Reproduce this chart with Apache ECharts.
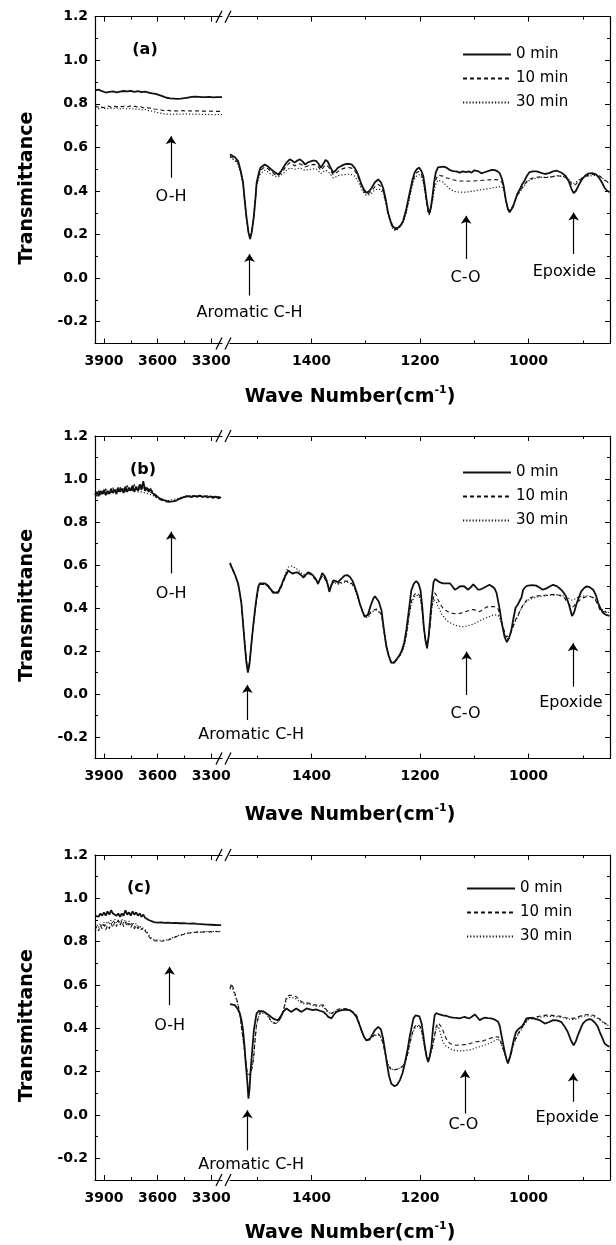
<!DOCTYPE html>
<html>
<head>
<meta charset="utf-8">
<title>FTIR spectra</title>
<script src="https://cdn.jsdelivr.net/npm/echarts@6.0.0/dist/echarts.min.js"></script>
<style>
html, body { margin: 0; padding: 0; background: #fff; }
#main { width: 616px; height: 1245px; }
</style>
</head>
<body>
<div id="main"></div>
<script>
// legend / series names
var seriesNames = ['0 min', '10 min', '30 min'];
var panelNames = ['(a)', '(b)', '(c)'];

// tick values
var xTicksLeft = [3900, 3600, 3300];
var xMinorLeft = [3750, 3450];
var xTicksRight = [1400, 1200, 1000];
var xMinorRight = [1500, 1300, 1100, 900];
var yTicks = [-0.2, 0, 0.2, 0.4, 0.6, 0.8, 1.0, 1.2];
var yMinor = [-0.1, 0.1, 0.3, 0.5, 0.7, 0.9, 1.1];

// ---- panel (a) ----
var a0Left = [[3950,0.862],[3930,0.865],[3910,0.858],[3890,0.852],[3870,0.855],[3850,0.857],[3830,0.853],[3810,0.856],[3790,0.859],[3770,0.857],[3750,0.86],[3730,0.855],[3710,0.858],[3690,0.854],[3670,0.856],[3650,0.852],[3630,0.848],[3610,0.846],[3590,0.84],[3570,0.834],[3550,0.828],[3530,0.825],[3510,0.824],[3490,0.823],[3470,0.824],[3450,0.826],[3430,0.829],[3410,0.832],[3390,0.833],[3370,0.832],[3350,0.831],[3330,0.831],[3310,0.832],[3290,0.83],[3270,0.831],[3240,0.831]];
var a10Left = [[3950,0.79],[3935,0.785],[3920,0.79],[3905,0.782],[3890,0.787],[3875,0.79],[3860,0.784],[3845,0.79],[3830,0.786],[3815,0.792],[3800,0.787],[3785,0.79],[3770,0.785],[3755,0.79],[3740,0.786],[3725,0.789],[3710,0.783],[3695,0.787],[3680,0.782],[3665,0.785],[3650,0.78],[3635,0.782],[3620,0.776],[3600,0.775],[3580,0.772],[3560,0.768],[3540,0.77],[3520,0.766],[3500,0.768],[3480,0.767],[3460,0.769],[3440,0.766],[3420,0.768],[3400,0.767],[3380,0.768],[3360,0.766],[3340,0.767],[3320,0.765],[3300,0.767],[3280,0.765],[3260,0.766],[3240,0.765]];
var a30Left = [[3950,0.782],[3930,0.778],[3910,0.783],[3890,0.777],[3870,0.781],[3850,0.778],[3830,0.782],[3810,0.777],[3790,0.78],[3770,0.776],[3750,0.779],[3730,0.775],[3710,0.777],[3690,0.772],[3670,0.774],[3650,0.769],[3630,0.766],[3610,0.762],[3590,0.758],[3570,0.755],[3550,0.753],[3530,0.752],[3500,0.753],[3470,0.752],[3440,0.754],[3410,0.752],[3380,0.753],[3350,0.751],[3320,0.752],[3290,0.75],[3260,0.751],[3240,0.75]];
var a0Right = [[1550,0.568],[1541,0.555],[1535,0.537],[1530,0.49],[1526,0.438],[1523,0.36],[1520,0.286],[1516,0.21],[1513,0.179],[1510,0.21],[1506,0.286],[1503,0.37],[1501,0.438],[1497,0.48],[1494,0.507],[1486,0.522],[1480,0.512],[1474,0.499],[1467,0.485],[1461,0.476],[1456,0.49],[1452,0.507],[1446,0.53],[1440,0.545],[1436,0.54],[1431,0.53],[1426,0.54],[1421,0.545],[1416,0.535],[1412,0.522],[1406,0.532],[1400,0.537],[1395,0.54],[1391,0.537],[1387,0.525],[1383,0.507],[1378,0.525],[1374,0.542],[1370,0.535],[1366,0.514],[1360,0.484],[1355,0.495],[1351,0.507],[1345,0.515],[1339,0.522],[1332,0.525],[1326,0.522],[1320,0.505],[1317,0.491],[1312,0.46],[1308,0.431],[1303,0.405],[1299,0.392],[1294,0.398],[1289,0.415],[1283,0.44],[1277,0.453],[1272,0.44],[1268,0.415],[1263,0.36],[1259,0.301],[1254,0.26],[1250,0.237],[1245,0.228],[1240,0.232],[1235,0.245],[1231,0.263],[1225,0.32],[1219,0.392],[1214,0.45],[1210,0.484],[1206,0.5],[1202,0.507],[1198,0.495],[1194,0.469],[1191,0.42],[1188,0.362],[1185,0.315],[1183,0.298],[1180,0.325],[1177,0.377],[1174,0.44],[1171,0.484],[1167,0.508],[1164,0.517],[1157,0.512],[1151,0.507],[1145,0.496],[1139,0.491],[1133,0.49],[1127,0.484],[1121,0.49],[1115,0.487],[1110,0.49],[1105,0.484],[1100,0.495],[1097,0.502],[1092,0.49],[1087,0.481],[1081,0.486],[1075,0.491],[1068,0.497],[1062,0.496],[1057,0.49],[1053,0.481],[1049,0.455],[1046,0.423],[1042,0.36],[1038,0.316],[1035,0.302],[1033,0.301],[1029,0.325],[1026,0.347],[1021,0.385],[1016,0.408],[1012,0.43],[1008,0.445],[1003,0.47],[998,0.487],[992,0.49],[985,0.49],[978,0.484],[970,0.478],[962,0.482],[955,0.49],[948,0.493],[940,0.485],[932,0.47],[926,0.445],[921,0.41],[917,0.39],[913,0.4],[908,0.425],[902,0.452],[896,0.47],[890,0.48],[883,0.482],[876,0.476],[870,0.46],[865,0.44],[860,0.415],[855,0.4],[850,0.395]];
var a10Right = [[1550,0.56],[1541,0.545],[1535,0.53],[1530,0.485],[1526,0.44],[1523,0.36],[1520,0.29],[1516,0.215],[1513,0.19],[1510,0.215],[1506,0.29],[1503,0.37],[1501,0.43],[1497,0.47],[1494,0.495],[1486,0.51],[1480,0.502],[1474,0.49],[1467,0.475],[1461,0.47],[1456,0.482],[1452,0.495],[1446,0.515],[1440,0.53],[1436,0.525],[1431,0.515],[1426,0.522],[1421,0.525],[1416,0.518],[1412,0.51],[1406,0.516],[1400,0.52],[1395,0.522],[1391,0.52],[1387,0.51],[1383,0.495],[1378,0.508],[1374,0.52],[1370,0.515],[1366,0.5],[1360,0.475],[1355,0.482],[1351,0.49],[1345,0.5],[1339,0.505],[1332,0.508],[1326,0.505],[1320,0.492],[1317,0.48],[1312,0.452],[1308,0.425],[1303,0.398],[1299,0.385],[1294,0.39],[1289,0.4],[1283,0.42],[1277,0.43],[1272,0.422],[1268,0.4],[1263,0.35],[1259,0.3],[1254,0.255],[1250,0.23],[1245,0.222],[1240,0.23],[1235,0.245],[1231,0.26],[1225,0.31],[1219,0.38],[1214,0.44],[1210,0.47],[1206,0.485],[1202,0.49],[1198,0.48],[1194,0.45],[1191,0.4],[1188,0.35],[1185,0.305],[1183,0.29],[1180,0.32],[1177,0.36],[1174,0.42],[1171,0.45],[1167,0.472],[1164,0.476],[1157,0.468],[1151,0.46],[1145,0.457],[1139,0.452],[1133,0.448],[1127,0.446],[1121,0.446],[1115,0.445],[1108,0.446],[1100,0.446],[1096,0.447],[1090,0.448],[1084,0.449],[1078,0.45],[1072,0.451],[1066,0.452],[1060,0.452],[1053,0.45],[1049,0.44],[1046,0.42],[1042,0.36],[1038,0.318],[1035,0.308],[1032,0.31],[1029,0.33],[1026,0.35],[1021,0.38],[1016,0.4],[1012,0.415],[1008,0.43],[1003,0.445],[998,0.455],[992,0.46],[985,0.463],[978,0.465],[970,0.462],[962,0.462],[955,0.466],[948,0.47],[940,0.468],[932,0.462],[926,0.45],[921,0.432],[917,0.425],[913,0.43],[908,0.445],[902,0.458],[896,0.466],[890,0.472],[883,0.476],[876,0.476],[870,0.47],[865,0.46],[860,0.45],[855,0.443],[850,0.44]];
var a30Right = [[1550,0.555],[1541,0.54],[1535,0.52],[1530,0.475],[1526,0.43],[1523,0.355],[1520,0.28],[1516,0.21],[1513,0.19],[1510,0.21],[1506,0.28],[1503,0.36],[1501,0.42],[1497,0.46],[1494,0.48],[1486,0.495],[1480,0.488],[1474,0.475],[1467,0.468],[1461,0.465],[1456,0.472],[1452,0.48],[1446,0.495],[1440,0.505],[1436,0.503],[1431,0.5],[1426,0.503],[1421,0.505],[1416,0.5],[1412,0.495],[1406,0.498],[1400,0.5],[1395,0.502],[1391,0.5],[1387,0.492],[1383,0.48],[1378,0.49],[1374,0.495],[1370,0.49],[1366,0.48],[1360,0.46],[1355,0.465],[1351,0.47],[1345,0.473],[1339,0.475],[1332,0.477],[1326,0.475],[1320,0.468],[1317,0.46],[1312,0.435],[1308,0.41],[1303,0.39],[1299,0.38],[1294,0.383],[1289,0.39],[1283,0.405],[1277,0.41],[1272,0.405],[1268,0.39],[1263,0.345],[1259,0.3],[1254,0.25],[1250,0.225],[1245,0.218],[1240,0.225],[1235,0.24],[1231,0.255],[1225,0.3],[1219,0.37],[1214,0.425],[1210,0.455],[1206,0.47],[1202,0.475],[1198,0.465],[1194,0.44],[1191,0.395],[1188,0.35],[1185,0.305],[1183,0.29],[1180,0.315],[1177,0.35],[1174,0.4],[1171,0.43],[1167,0.45],[1164,0.457],[1157,0.44],[1151,0.423],[1145,0.41],[1139,0.4],[1133,0.396],[1127,0.395],[1121,0.394],[1115,0.395],[1108,0.397],[1100,0.4],[1090,0.405],[1082,0.408],[1075,0.41],[1066,0.415],[1058,0.418],[1050,0.42],[1046,0.41],[1042,0.36],[1038,0.32],[1035,0.31],[1032,0.312],[1029,0.33],[1026,0.35],[1021,0.378],[1016,0.395],[1012,0.41],[1008,0.425],[1003,0.44],[998,0.45],[992,0.455],[985,0.46],[978,0.462],[970,0.463],[962,0.465],[955,0.467],[948,0.47],[940,0.468],[932,0.465],[926,0.455],[921,0.44],[917,0.435],[913,0.44],[908,0.45],[902,0.46],[896,0.465],[890,0.468],[883,0.47],[876,0.472],[870,0.47],[865,0.463],[860,0.45],[855,0.44],[850,0.435]];

// ---- panel (b) ----
var b0Left = [[3950,0.925],[3940,0.94],[3930,0.92],[3920,0.945],[3910,0.93],[3900,0.95],[3890,0.925],[3880,0.945],[3870,0.93],[3860,0.955],[3850,0.935],[3840,0.95],[3830,0.93],[3820,0.96],[3810,0.94],[3800,0.955],[3790,0.935],[3780,0.965],[3770,0.94],[3760,0.96],[3750,0.945],[3740,0.97],[3730,0.94],[3720,0.965],[3710,0.945],[3700,0.975],[3690,0.95],[3680,0.99],[3670,0.945],[3660,0.96],[3650,0.94],[3640,0.955],[3630,0.935],[3620,0.94],[3610,0.925],[3600,0.92],[3590,0.91],[3575,0.905],[3560,0.9],[3545,0.897],[3530,0.895],[3515,0.896],[3500,0.898],[3485,0.905],[3470,0.91],[3455,0.915],[3440,0.918],[3425,0.92],[3410,0.915],[3395,0.922],[3380,0.917],[3365,0.923],[3350,0.916],[3335,0.921],[3320,0.914],[3305,0.92],[3290,0.912],[3275,0.918],[3260,0.91],[3245,0.915]];
var b10Left = [[3950,0.935],[3940,0.92],[3930,0.945],[3920,0.925],[3910,0.95],[3900,0.93],[3890,0.955],[3880,0.93],[3870,0.95],[3860,0.935],[3850,0.96],[3840,0.935],[3830,0.955],[3820,0.94],[3810,0.965],[3800,0.935],[3790,0.96],[3780,0.94],[3770,0.97],[3760,0.945],[3750,0.965],[3740,0.945],[3730,0.975],[3720,0.95],[3710,0.97],[3700,0.945],[3690,0.98],[3680,0.955],[3670,0.965],[3660,0.94],[3650,0.955],[3640,0.935],[3630,0.945],[3620,0.925],[3610,0.92],[3600,0.91],[3590,0.905],[3575,0.9],[3560,0.895],[3545,0.893],[3530,0.892],[3515,0.895],[3500,0.9],[3485,0.906],[3470,0.912],[3455,0.918],[3440,0.922],[3425,0.917],[3410,0.924],[3395,0.918],[3380,0.925],[3365,0.919],[3350,0.924],[3335,0.917],[3320,0.922],[3305,0.915],[3290,0.92],[3275,0.913],[3260,0.918],[3245,0.912]];
var b30Left = [[3950,0.93],[3940,0.935],[3930,0.93],[3920,0.94],[3910,0.935],[3900,0.94],[3890,0.935],[3880,0.94],[3870,0.94],[3860,0.945],[3850,0.94],[3840,0.945],[3830,0.94],[3820,0.945],[3810,0.945],[3800,0.95],[3790,0.945],[3780,0.95],[3770,0.945],[3760,0.95],[3750,0.945],[3740,0.95],[3730,0.945],[3720,0.95],[3710,0.94],[3700,0.945],[3690,0.94],[3680,0.945],[3670,0.935],[3660,0.935],[3650,0.93],[3640,0.93],[3630,0.925],[3620,0.92],[3610,0.915],[3600,0.91],[3585,0.905],[3570,0.902],[3555,0.9],[3540,0.9],[3525,0.902],[3510,0.905],[3495,0.908],[3480,0.912],[3465,0.915],[3450,0.918],[3435,0.92],[3420,0.921],[3405,0.922],[3390,0.921],[3375,0.922],[3360,0.921],[3345,0.92],[3330,0.92],[3315,0.919],[3300,0.918],[3285,0.918],[3270,0.917],[3255,0.917],[3245,0.916]];
var b0Right = [[1550,0.61],[1547,0.59],[1544,0.574],[1540,0.55],[1535,0.513],[1532,0.47],[1529,0.421],[1526,0.33],[1523,0.237],[1520,0.15],[1517,0.1],[1514,0.14],[1511,0.222],[1508,0.3],[1504,0.39],[1501,0.45],[1498,0.498],[1495,0.515],[1492,0.52],[1486,0.515],[1480,0.505],[1476,0.49],[1471,0.475],[1466,0.47],[1461,0.475],[1456,0.5],[1452,0.528],[1447,0.555],[1443,0.574],[1438,0.565],[1434,0.559],[1430,0.565],[1425,0.566],[1420,0.555],[1415,0.544],[1410,0.555],[1406,0.566],[1401,0.56],[1397,0.551],[1392,0.535],[1388,0.513],[1384,0.535],[1380,0.562],[1376,0.55],[1372,0.528],[1369,0.5],[1367,0.475],[1364,0.5],[1360,0.528],[1355,0.525],[1351,0.52],[1345,0.535],[1339,0.551],[1334,0.553],[1329,0.544],[1324,0.525],[1320,0.498],[1315,0.46],[1311,0.421],[1306,0.385],[1302,0.36],[1299,0.358],[1296,0.368],[1291,0.41],[1286,0.444],[1283,0.455],[1280,0.452],[1276,0.43],[1271,0.39],[1267,0.31],[1262,0.222],[1258,0.18],[1253,0.146],[1248,0.145],[1243,0.161],[1238,0.18],[1234,0.199],[1229,0.24],[1225,0.299],[1220,0.4],[1216,0.482],[1211,0.515],[1207,0.525],[1203,0.515],[1199,0.482],[1196,0.41],[1193,0.314],[1190,0.25],[1187,0.215],[1184,0.27],[1181,0.36],[1178,0.45],[1175,0.52],[1172,0.535],[1169,0.53],[1164,0.52],[1158,0.515],[1152,0.515],[1145,0.515],[1140,0.5],[1136,0.485],[1131,0.492],[1127,0.5],[1122,0.502],[1118,0.5],[1112,0.485],[1107,0.495],[1102,0.51],[1098,0.5],[1093,0.485],[1088,0.487],[1084,0.492],[1078,0.5],[1072,0.508],[1067,0.5],[1063,0.492],[1059,0.47],[1056,0.431],[1053,0.39],[1050,0.34],[1047,0.3],[1044,0.264],[1040,0.241],[1036,0.26],[1032,0.294],[1028,0.35],[1024,0.401],[1020,0.415],[1017,0.424],[1013,0.45],[1010,0.485],[1005,0.5],[1001,0.504],[993,0.506],[986,0.504],[980,0.495],[974,0.485],[968,0.49],[961,0.5],[955,0.508],[948,0.502],[940,0.485],[935,0.47],[931,0.454],[926,0.42],[920,0.363],[916,0.38],[912,0.416],[908,0.445],[903,0.477],[898,0.492],[894,0.5],[888,0.498],[881,0.485],[876,0.46],[872,0.424],[867,0.395],[863,0.378],[857,0.368],[851,0.363]];
var b10Right = [[1550,0.605],[1547,0.585],[1544,0.57],[1540,0.545],[1535,0.51],[1532,0.465],[1529,0.42],[1526,0.33],[1523,0.24],[1520,0.16],[1517,0.11],[1514,0.15],[1511,0.22],[1508,0.3],[1504,0.38],[1501,0.44],[1498,0.49],[1495,0.51],[1492,0.515],[1486,0.51],[1480,0.5],[1476,0.485],[1471,0.47],[1466,0.465],[1461,0.47],[1456,0.495],[1452,0.52],[1447,0.55],[1443,0.57],[1438,0.565],[1434,0.56],[1430,0.565],[1425,0.565],[1420,0.552],[1415,0.54],[1410,0.55],[1406,0.56],[1401,0.555],[1397,0.545],[1392,0.53],[1388,0.51],[1384,0.53],[1380,0.55],[1376,0.54],[1372,0.52],[1369,0.5],[1367,0.48],[1364,0.5],[1360,0.52],[1355,0.517],[1351,0.515],[1345,0.52],[1339,0.525],[1334,0.525],[1329,0.52],[1324,0.51],[1320,0.49],[1315,0.455],[1311,0.42],[1306,0.385],[1302,0.36],[1299,0.355],[1296,0.36],[1291,0.38],[1286,0.39],[1283,0.395],[1280,0.395],[1276,0.385],[1271,0.37],[1267,0.3],[1262,0.22],[1258,0.18],[1253,0.145],[1248,0.145],[1243,0.16],[1238,0.175],[1234,0.19],[1229,0.23],[1225,0.28],[1220,0.37],[1216,0.43],[1211,0.46],[1207,0.47],[1203,0.465],[1199,0.45],[1196,0.39],[1193,0.31],[1190,0.25],[1187,0.21],[1184,0.26],[1181,0.33],[1178,0.41],[1175,0.45],[1173,0.47],[1170,0.46],[1167,0.44],[1162,0.415],[1158,0.4],[1152,0.388],[1145,0.378],[1139,0.375],[1133,0.373],[1127,0.375],[1121,0.378],[1114,0.385],[1108,0.39],[1102,0.393],[1096,0.388],[1090,0.383],[1084,0.393],[1078,0.404],[1072,0.406],[1066,0.407],[1060,0.405],[1056,0.395],[1053,0.37],[1049,0.33],[1044,0.287],[1041,0.265],[1038,0.256],[1034,0.275],[1029,0.31],[1025,0.34],[1020,0.363],[1015,0.39],[1010,0.416],[1004,0.435],[998,0.447],[990,0.453],[982,0.457],[974,0.459],[966,0.46],[958,0.462],[949,0.462],[942,0.458],[934,0.447],[928,0.425],[921,0.401],[916,0.41],[912,0.424],[906,0.436],[900,0.447],[894,0.452],[888,0.454],[883,0.45],[878,0.44],[873,0.42],[869,0.393],[863,0.383],[857,0.38],[851,0.378]];
var b30Right = [[1550,0.605],[1547,0.59],[1544,0.575],[1540,0.55],[1535,0.515],[1532,0.47],[1529,0.42],[1526,0.33],[1523,0.24],[1520,0.16],[1517,0.11],[1514,0.15],[1511,0.22],[1508,0.3],[1504,0.38],[1501,0.44],[1498,0.49],[1495,0.51],[1492,0.515],[1486,0.51],[1480,0.5],[1476,0.49],[1471,0.475],[1466,0.472],[1461,0.48],[1456,0.505],[1452,0.53],[1447,0.565],[1443,0.59],[1438,0.595],[1434,0.595],[1430,0.585],[1425,0.58],[1420,0.565],[1415,0.555],[1410,0.56],[1406,0.565],[1401,0.56],[1397,0.55],[1392,0.535],[1388,0.52],[1384,0.535],[1380,0.55],[1376,0.54],[1372,0.52],[1369,0.505],[1367,0.49],[1364,0.505],[1360,0.52],[1355,0.515],[1351,0.51],[1345,0.515],[1339,0.52],[1334,0.52],[1329,0.515],[1324,0.505],[1320,0.49],[1315,0.455],[1311,0.42],[1306,0.385],[1302,0.36],[1299,0.352],[1296,0.355],[1291,0.375],[1286,0.385],[1283,0.39],[1280,0.39],[1276,0.382],[1271,0.37],[1267,0.31],[1262,0.23],[1258,0.185],[1253,0.15],[1248,0.15],[1243,0.165],[1238,0.178],[1234,0.19],[1229,0.225],[1225,0.27],[1220,0.36],[1216,0.42],[1211,0.45],[1207,0.46],[1203,0.458],[1199,0.44],[1196,0.385],[1193,0.31],[1190,0.255],[1187,0.22],[1184,0.26],[1181,0.33],[1178,0.4],[1175,0.44],[1173,0.447],[1170,0.43],[1167,0.41],[1164,0.393],[1160,0.37],[1155,0.355],[1150,0.34],[1145,0.332],[1139,0.325],[1133,0.318],[1127,0.315],[1121,0.313],[1114,0.316],[1108,0.32],[1102,0.325],[1096,0.332],[1090,0.34],[1084,0.348],[1078,0.355],[1072,0.36],[1066,0.367],[1060,0.368],[1056,0.366],[1052,0.345],[1047,0.302],[1043,0.27],[1039,0.255],[1035,0.27],[1030,0.305],[1025,0.335],[1020,0.36],[1015,0.39],[1010,0.412],[1004,0.43],[998,0.44],[990,0.447],[982,0.452],[974,0.455],[966,0.458],[958,0.46],[949,0.462],[942,0.46],[934,0.455],[928,0.447],[921,0.437],[916,0.44],[912,0.447],[906,0.452],[900,0.455],[894,0.457],[888,0.455],[883,0.452],[878,0.445],[873,0.43],[869,0.405],[863,0.39],[857,0.382],[851,0.378]];

// ---- panel (c) ----
var c0Left = [[3950,0.92],[3940,0.925],[3930,0.915],[3920,0.93],[3910,0.92],[3900,0.935],[3890,0.92],[3880,0.94],[3870,0.925],[3860,0.945],[3850,0.93],[3840,0.935],[3830,0.92],[3820,0.93],[3810,0.915],[3800,0.93],[3790,0.92],[3780,0.945],[3770,0.925],[3760,0.935],[3750,0.92],[3740,0.94],[3730,0.925],[3720,0.935],[3710,0.92],[3700,0.93],[3690,0.915],[3680,0.925],[3670,0.91],[3660,0.905],[3650,0.9],[3640,0.895],[3620,0.89],[3600,0.888],[3580,0.889],[3560,0.887],[3540,0.888],[3520,0.886],[3500,0.887],[3480,0.885],[3460,0.886],[3440,0.884],[3420,0.883],[3400,0.884],[3380,0.882],[3360,0.881],[3340,0.88],[3320,0.879],[3300,0.878],[3280,0.877],[3260,0.876],[3245,0.876]];
var c10Left = [[3950,0.855],[3940,0.87],[3930,0.85],[3920,0.875],[3910,0.86],[3900,0.88],[3890,0.855],[3880,0.875],[3870,0.86],[3860,0.885],[3850,0.865],[3840,0.89],[3830,0.87],[3820,0.9],[3810,0.875],[3800,0.895],[3790,0.87],[3780,0.89],[3770,0.87],[3760,0.885],[3750,0.865],[3740,0.88],[3730,0.86],[3720,0.875],[3710,0.86],[3700,0.87],[3690,0.855],[3680,0.865],[3670,0.85],[3660,0.84],[3650,0.825],[3640,0.815],[3630,0.81],[3620,0.805],[3610,0.808],[3600,0.803],[3590,0.807],[3580,0.802],[3570,0.806],[3560,0.804],[3550,0.81],[3540,0.808],[3520,0.815],[3500,0.822],[3480,0.828],[3460,0.832],[3440,0.838],[3420,0.84],[3400,0.842],[3380,0.844],[3360,0.843],[3340,0.845],[3320,0.846],[3300,0.845],[3280,0.847],[3260,0.846],[3245,0.846]];
var c30Left = [[3950,0.87],[3940,0.88],[3930,0.865],[3920,0.885],[3910,0.87],[3900,0.89],[3890,0.875],[3880,0.895],[3870,0.88],[3860,0.9],[3850,0.885],[3840,0.905],[3830,0.885],[3820,0.9],[3810,0.88],[3800,0.905],[3790,0.885],[3780,0.9],[3770,0.88],[3760,0.895],[3750,0.875],[3740,0.89],[3730,0.87],[3720,0.885],[3710,0.865],[3700,0.875],[3690,0.86],[3680,0.865],[3670,0.855],[3660,0.845],[3650,0.832],[3640,0.82],[3630,0.815],[3620,0.81],[3610,0.812],[3600,0.808],[3590,0.81],[3580,0.806],[3570,0.809],[3560,0.807],[3550,0.812],[3540,0.81],[3520,0.817],[3500,0.824],[3480,0.83],[3460,0.834],[3440,0.839],[3420,0.841],[3400,0.843],[3380,0.845],[3360,0.844],[3340,0.846],[3320,0.847],[3300,0.846],[3280,0.848],[3260,0.847],[3245,0.847]];
var c0Right = [[1550,0.512],[1547,0.51],[1541,0.507],[1536,0.49],[1532,0.469],[1529,0.44],[1526,0.392],[1523,0.31],[1521,0.238],[1518,0.15],[1516,0.076],[1514,0.12],[1512,0.207],[1509,0.3],[1506,0.392],[1503,0.44],[1501,0.469],[1497,0.48],[1494,0.484],[1488,0.478],[1483,0.469],[1477,0.458],[1471,0.446],[1466,0.44],[1461,0.438],[1456,0.458],[1452,0.476],[1446,0.492],[1441,0.482],[1437,0.476],[1432,0.485],[1428,0.492],[1423,0.483],[1418,0.476],[1413,0.485],[1409,0.492],[1403,0.488],[1397,0.484],[1392,0.487],[1388,0.484],[1383,0.48],[1378,0.476],[1373,0.465],[1369,0.453],[1366,0.445],[1363,0.446],[1358,0.465],[1354,0.476],[1348,0.482],[1342,0.484],[1335,0.486],[1329,0.484],[1323,0.472],[1317,0.453],[1312,0.42],[1308,0.392],[1303,0.36],[1299,0.345],[1293,0.348],[1288,0.37],[1283,0.392],[1277,0.407],[1272,0.395],[1268,0.353],[1264,0.29],[1261,0.238],[1257,0.18],[1253,0.145],[1247,0.133],[1242,0.14],[1237,0.161],[1232,0.195],[1228,0.238],[1223,0.3],[1219,0.361],[1215,0.41],[1212,0.446],[1208,0.46],[1205,0.466],[1201,0.455],[1197,0.422],[1194,0.37],[1191,0.315],[1188,0.27],[1185,0.245],[1182,0.27],[1179,0.315],[1176,0.4],[1173,0.46],[1170,0.47],[1164,0.464],[1158,0.46],[1152,0.458],[1145,0.452],[1139,0.449],[1133,0.448],[1127,0.446],[1122,0.45],[1118,0.453],[1113,0.448],[1109,0.446],[1104,0.455],[1099,0.464],[1094,0.45],[1090,0.438],[1085,0.445],[1081,0.449],[1075,0.447],[1069,0.446],[1062,0.44],[1056,0.43],[1053,0.41],[1050,0.369],[1047,0.33],[1044,0.292],[1041,0.26],[1038,0.238],[1034,0.27],[1030,0.315],[1027,0.35],[1023,0.384],[1018,0.398],[1013,0.407],[1008,0.425],[1004,0.446],[998,0.448],[992,0.446],[986,0.442],[980,0.438],[975,0.43],[970,0.422],[963,0.428],[955,0.438],[948,0.437],[940,0.43],[934,0.41],[928,0.384],[922,0.345],[917,0.322],[913,0.34],[909,0.369],[904,0.4],[900,0.422],[895,0.435],[889,0.442],[884,0.44],[878,0.427],[873,0.41],[869,0.384],[864,0.355],[860,0.33],[855,0.32],[851,0.315]];
var c10Right = [[1550,0.585],[1547,0.607],[1544,0.585],[1541,0.561],[1536,0.52],[1532,0.469],[1528,0.39],[1524,0.315],[1521,0.25],[1518,0.191],[1515,0.183],[1513,0.184],[1510,0.21],[1507,0.253],[1504,0.34],[1501,0.422],[1497,0.46],[1494,0.476],[1488,0.475],[1483,0.469],[1478,0.45],[1474,0.43],[1469,0.424],[1464,0.422],[1460,0.435],[1455,0.453],[1450,0.5],[1446,0.546],[1441,0.552],[1437,0.553],[1432,0.55],[1428,0.546],[1423,0.535],[1418,0.522],[1410,0.518],[1403,0.515],[1397,0.51],[1391,0.507],[1384,0.508],[1378,0.507],[1375,0.495],[1372,0.484],[1367,0.474],[1363,0.469],[1358,0.478],[1354,0.484],[1348,0.49],[1342,0.492],[1335,0.49],[1329,0.484],[1323,0.475],[1317,0.461],[1312,0.425],[1308,0.392],[1303,0.36],[1299,0.345],[1294,0.352],[1289,0.361],[1283,0.37],[1277,0.376],[1272,0.36],[1268,0.33],[1263,0.27],[1259,0.23],[1254,0.212],[1250,0.207],[1244,0.21],[1237,0.214],[1232,0.225],[1228,0.238],[1223,0.28],[1219,0.33],[1214,0.38],[1210,0.407],[1206,0.418],[1203,0.422],[1200,0.41],[1197,0.392],[1194,0.35],[1191,0.307],[1188,0.275],[1185,0.253],[1181,0.28],[1177,0.315],[1173,0.37],[1170,0.41],[1166,0.425],[1163,0.43],[1159,0.4],[1155,0.369],[1150,0.345],[1145,0.33],[1139,0.325],[1133,0.322],[1127,0.323],[1121,0.324],[1115,0.325],[1108,0.33],[1102,0.335],[1096,0.338],[1090,0.34],[1084,0.341],[1078,0.348],[1072,0.353],[1066,0.357],[1060,0.36],[1056,0.361],[1053,0.35],[1050,0.33],[1046,0.3],[1042,0.268],[1036,0.253],[1032,0.28],[1029,0.322],[1025,0.345],[1021,0.369],[1017,0.385],[1013,0.399],[1007,0.425],[1001,0.446],[994,0.45],[986,0.453],[977,0.457],[967,0.461],[958,0.46],[949,0.458],[940,0.455],[931,0.449],[924,0.447],[917,0.446],[910,0.452],[900,0.461],[894,0.463],[888,0.464],[881,0.46],[875,0.453],[869,0.443],[863,0.43],[857,0.42],[851,0.415]];
var c30Right = [[1550,0.58],[1547,0.595],[1544,0.575],[1541,0.555],[1536,0.515],[1532,0.465],[1528,0.385],[1524,0.31],[1521,0.245],[1518,0.19],[1515,0.185],[1513,0.188],[1510,0.215],[1507,0.255],[1504,0.34],[1501,0.415],[1497,0.455],[1494,0.47],[1488,0.47],[1483,0.465],[1478,0.448],[1474,0.432],[1469,0.426],[1464,0.425],[1460,0.436],[1455,0.452],[1450,0.495],[1446,0.535],[1441,0.542],[1437,0.543],[1432,0.54],[1428,0.535],[1423,0.526],[1418,0.515],[1410,0.512],[1403,0.51],[1397,0.505],[1391,0.502],[1384,0.503],[1378,0.5],[1375,0.49],[1372,0.48],[1367,0.472],[1363,0.468],[1358,0.475],[1354,0.48],[1348,0.486],[1342,0.488],[1335,0.487],[1329,0.48],[1323,0.472],[1317,0.457],[1312,0.423],[1308,0.39],[1303,0.36],[1299,0.345],[1294,0.35],[1289,0.358],[1283,0.366],[1277,0.372],[1272,0.358],[1268,0.33],[1263,0.272],[1259,0.235],[1254,0.215],[1250,0.21],[1244,0.212],[1237,0.216],[1232,0.226],[1228,0.24],[1223,0.278],[1219,0.325],[1214,0.372],[1210,0.4],[1206,0.41],[1203,0.413],[1200,0.402],[1197,0.385],[1194,0.345],[1191,0.305],[1188,0.275],[1185,0.255],[1181,0.28],[1177,0.312],[1173,0.36],[1170,0.399],[1166,0.41],[1163,0.405],[1158,0.338],[1152,0.318],[1145,0.307],[1139,0.3],[1133,0.297],[1127,0.295],[1121,0.297],[1115,0.299],[1109,0.3],[1102,0.305],[1096,0.31],[1090,0.315],[1084,0.32],[1078,0.325],[1072,0.33],[1066,0.338],[1060,0.345],[1056,0.353],[1053,0.345],[1050,0.325],[1046,0.298],[1042,0.27],[1037,0.256],[1033,0.275],[1029,0.315],[1025,0.34],[1021,0.362],[1017,0.38],[1013,0.395],[1007,0.42],[1001,0.44],[994,0.445],[986,0.448],[977,0.452],[967,0.455],[958,0.455],[949,0.453],[940,0.45],[931,0.445],[924,0.442],[917,0.44],[910,0.445],[900,0.455],[894,0.457],[888,0.458],[881,0.455],[875,0.448],[869,0.44],[863,0.428],[857,0.418],[851,0.41]];

var leftData = [[a0Left, a10Left, a30Left], [b0Left, b10Left, b30Left], [c0Left, c10Left, c30Left]];
var rightData = [[a0Right, a10Right, a30Right], [b0Right, b10Right, b30Right], [c0Right, c10Right, c30Right]];

// annotation arrows: [wave number, tail, head]
var ohArrows = [[3525, 0.461, 0.651], [3524, 0.561, 0.755], [3533, 0.507, 0.684]];
var ohTexts = [[3525, 0.373], [3524, 0.468], [3533, 0.41]];
var bandNames = ['Aromatic C-H', 'C-O', 'Epoxide'];
var bandArrows = [
    [[1514, -0.08, 0.111], [1115, 0.088, 0.286], [917, 0.111, 0.301]],
    [[1518, -0.121, 0.042], [1114, -0.005, 0.197], [918, 0.034, 0.236]],
    [[1518, -0.163, 0.022], [1117, 0.007, 0.207], [918, 0.061, 0.192]]
];
var bandTexts = [
    [[1514, -0.16], [1116, 0.0], [934, 0.027]],
    [[1511, -0.19], [1116, -0.09], [922, -0.039]],
    [[1511, -0.229], [1120, -0.045], [929, -0.015]]
];

// layout
var FONT = 'DejaVu Sans';
var panelTop = [16.7, 436, 855];
var panelH = [326.8, 322.5, 325];
var leftX = 95, leftW = 127, rightX = 230, rightW = 380;
var legendLeft = [462, 462, 466];
var legendTop = [46, 464, 880];
var tagPos = [[145, 50], [143, 470], [139, 888]];
var xNameY = [385, 803, 1221];

var lineTypes = ['solid', [4, 3], [1.2, 2]];
var lineWidths = [1.8, 1.1, 1.1];

var grids = [], xAxes = [], yAxes = [], series = [], legends = [], titles = [], graphics = [];

function tickStyle(len, vals) {
    return { show: true, inside: true, length: len, customValues: vals, lineStyle: { color: '#000', width: 1 } };
}

//x轴: 下方主/次刻度 + 上方主/次刻度
function addX(gi, min, max, major, minor) {
    var base = { gridIndex: gi, type: 'value', inverse: true, min: min, max: max, splitLine: { show: false } };
    var lineOn = { show: true, onZero: false, lineStyle: { color: '#000', width: 1.2 } };
    xAxes.push(Object.assign({}, base, {
        position: 'bottom', axisLine: lineOn, axisTick: tickStyle(5, major),
        axisLabel: {
            customValues: major, margin: 11, color: '#000', fontSize: 14, fontWeight: 'bold', fontFamily: FONT,
            formatter: function (v) { return String(v); }
        }
    }));
    xAxes.push(Object.assign({}, base, { position: 'bottom', axisLine: { show: false, onZero: false }, axisTick: tickStyle(3, minor), axisLabel: { show: false } }));
    xAxes.push(Object.assign({}, base, { position: 'top', axisLine: lineOn, axisTick: tickStyle(5, major), axisLabel: { show: false } }));
    xAxes.push(Object.assign({}, base, { position: 'top', axisLine: { show: false, onZero: false }, axisTick: tickStyle(3, minor), axisLabel: { show: false } }));
}

function addY(gi, side, withLabel) {
    var base = { gridIndex: gi, type: 'value', min: -0.3, max: 1.2, position: side, splitLine: { show: false } };
    var main = Object.assign({}, base, {
        axisLine: { show: true, onZero: false, lineStyle: { color: '#000', width: 1.2 } },
        axisTick: tickStyle(5, yTicks),
        axisLabel: withLabel ? {
            customValues: yTicks, margin: 7, color: '#000', fontSize: 14, fontWeight: 'bold', fontFamily: FONT,
            formatter: function (v) { return v.toFixed(1); }
        } : { show: false }
    });
    if (withLabel) {
        main.name = 'Transmittance';
        main.nameLocation = 'middle';
        main.nameGap = 58;
        main.nameTextStyle = { color: '#000', fontSize: 19, fontWeight: 'bold', fontFamily: FONT, padding: [0, 16, 0, 0] };
    }
    yAxes.push(main);
    yAxes.push(Object.assign({}, base, { axisLine: { show: false, onZero: false }, axisTick: tickStyle(3, yMinor), axisLabel: { show: false } }));
}

function breakMarks(yc) {
    var xs = [leftX + leftW - 3, rightX - 2];
    xs.forEach(function (x) {
        graphics.push({ type: 'line', shape: { x1: x - 3, y1: yc + 6, x2: x + 3, y2: yc - 6 }, style: { stroke: '#000', lineWidth: 1.2 } });
    });
}

var markText = {
    show: true, position: 'inside', formatter: '{b}', color: '#000', fontSize: 16, fontFamily: FONT
};

for (var p = 0; p < 3; p++) {
    var gL = 2 * p, gR = 2 * p + 1;
    grids.push({ left: leftX, top: panelTop[p], width: leftW, height: panelH[p] });
    grids.push({ left: rightX, top: panelTop[p], width: rightW, height: panelH[p] });
    addX(gL, 3240, 3950, xTicksLeft, xMinorLeft);
    addX(gR, 850, 1550, xTicksRight, xMinorRight);
    addY(gL, 'left', true);
    addY(gR, 'right', false);

    for (var s = 0; s < 3; s++) {
        var ls = { color: '#111', width: lineWidths[s], type: lineTypes[s] };
        var left = {
            name: seriesNames[s], type: 'line', xAxisIndex: 4 * gL, yAxisIndex: 2 * gL, color: '#111',
            data: leftData[p][s], symbol: 'none', lineStyle: ls, silent: true
        };
        var right = {
            name: seriesNames[s], type: 'line', xAxisIndex: 4 * gR, yAxisIndex: 2 * gR, color: '#111',
            data: rightData[p][s], symbol: 'none', lineStyle: ls, silent: true
        };
        if (s == 0) {
            left.markLine = {
                silent: true, symbol: ['none', 'arrow'], symbolSize: 8, animation: false,
                label: { show: false }, lineStyle: { color: '#000', width: 1.2, type: 'solid' },
                data: [[{ coord: [ohArrows[p][0], ohArrows[p][1]] }, { coord: [ohArrows[p][0], ohArrows[p][2]] }]]
            };
            left.markPoint = {
                silent: true, symbol: 'rect', symbolSize: 1, itemStyle: { color: 'rgba(0,0,0,0)' }, label: markText,
                data: [{ name: 'O-H', coord: ohTexts[p] }]
            };
            right.markLine = {
                silent: true, symbol: ['none', 'arrow'], symbolSize: 8, animation: false,
                label: { show: false }, lineStyle: { color: '#000', width: 1.2, type: 'solid' },
                data: bandArrows[p].map(function (a) {
                    return [{ coord: [a[0], a[1]] }, { coord: [a[0], a[2]] }];
                })
            };
            right.markPoint = {
                silent: true, symbol: 'rect', symbolSize: 1, itemStyle: { color: 'rgba(0,0,0,0)' }, label: markText,
                data: bandTexts[p].map(function (t, i) {
                    return { name: bandNames[i], coord: t };
                })
            };
        }
        series.push(left, right);
    }

    legends.push({
        data: seriesNames, orient: 'vertical', left: legendLeft[p], top: legendTop[p] + 1, padding: 0,
        itemWidth: 48, itemHeight: 12, itemGap: 9, selectedMode: false,
        itemStyle: { opacity: 0 },
        textStyle: { color: '#000', fontSize: 15, fontFamily: FONT }
    });

    titles.push({
        text: '{a|Wave Number(cm}{b|-1}{a|)}', left: 350, top: xNameY[p], textAlign: 'center', padding: 0,
        textStyle: {
            rich: {
                a: { fontSize: 19, fontWeight: 'bold', fontFamily: FONT, color: '#000', lineHeight: 24 },
                b: { fontSize: 11, fontWeight: 'bold', fontFamily: FONT, color: '#000', verticalAlign: 'top' }
            }
        }
    });

    graphics.push({
        type: 'text', x: tagPos[p][0], y: tagPos[p][1],
        style: { text: panelNames[p], fill: '#000', font: 'bold 16px "DejaVu Sans"', textAlign: 'center', textVerticalAlign: 'middle' }
    });
    breakMarks(panelTop[p]);
    breakMarks(panelTop[p] + panelH[p]);
}

var myChart = echarts.init(document.getElementById('main'));
myChart.setOption({
    animation: false,
    backgroundColor: '#fff',
    title: titles,
    legend: legends,
    grid: grids,
    xAxis: xAxes,
    yAxis: yAxes,
    series: series,
    graphic: graphics
});
</script>
</body>
</html>
